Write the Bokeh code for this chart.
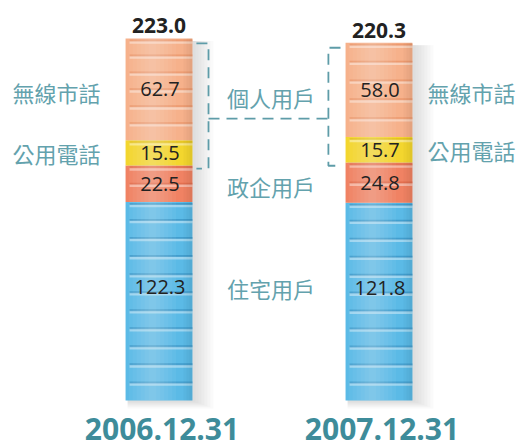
import numpy as np
from bokeh.plotting import figure
from bokeh.models import Range1d
from bokeh.core.properties import value
from bokeh.embed import file_html
from bokeh.resources import INLINE

# ---- data ----
dates = ["2006.12.31", "2007.12.31"]
residential = [122.3, 121.8]   # 住宅用戶
government = [22.5, 24.8]      # 政企用戶
payphone = [15.5, 15.7]        # 公用電話
wireless = [62.7, 58.0]        # 無線市話
totals = [223.0, 220.3]
side_labels = ["無線市話", "公用電話"]
group_labels = ["個人用戶", "政企用戶", "住宅用戶"]

# ---- geometry (styling) ----
xpos = np.array([0.0, 1.0])
hw = 0.152
px = 1 / 220.0  # one pixel in x data units
py = 1 / 1.623  # one pixel in y data units

p = figure(width=524, height=448, x_range=Range1d(-0.7205, 1.6614),
           y_range=Range1d(-29.6, 246.4), output_backend="svg",
           toolbar_location=None, min_border=0,
           x_axis_type=None, y_axis_type=None)
p.grid.visible = False
p.outline_line_color = None
p.background_fill_color = "white"
p.border_fill_color = "white"

res = np.array(residential)
gov = np.array(government)
pay = np.array(payphone)
wl = np.array(wireless)
b0 = np.zeros(2)
t0 = res
t1 = t0 + gov
t2 = t1 + pay
t3 = t2 + wl

# soft shadow to the right of the bars
for k in range(1, 8):
    p.quad(left=xpos - hw + 2 * px, right=xpos + hw + k * 3 * px,
           bottom=b0 - k * 0.7, top=t3 - 1.5,
           fill_color="#8a8a8a", fill_alpha=0.04, line_color=None)

segs = [
    (b0, t0, "#5BBAE6", "#2C86BA"),
    (t0, t1, "#F08263", "#D9603F"),
    (t1, t2, "#F3D62E", "#D8B40E"),
    (t2, t3, "#F6B18B", "#E5875A"),
]
step = 11.0
for bot, top, fc, hc in segs:
    p.quad(left=xpos - hw, right=xpos + hw, bottom=bot, top=top,
           fill_color=fc, line_color=None)
    # ribs
    rx0, rx1, ry = [], [], []
    for j in range(2):
        h = top[j] - bot[j]
        n = max(1, int(round(h / step)))
        for i in range(1, n + 1):
            yv = bot[j] + i * h / n
            if i == n:
                yv -= 1.2
            rx0.append(xpos[j] - hw + 4 * px)
            rx1.append(xpos[j] + hw)
            ry.append(yv)
    ry = np.array(ry)
    p.segment(x0=rx0, x1=rx1, y0=ry - 1.8 * py, y1=ry - 1.8 * py,
              line_color="white", line_alpha=0.4, line_width=3)
    p.segment(x0=rx0, x1=rx1, y0=ry, y1=ry,
              line_color=hc, line_alpha=0.55, line_width=2)

# highlight gradient (lighter left-center) and darker right edge
for k in range(1, 7):
    p.quad(left=xpos - 0.03 - k * 0.018, right=xpos - 0.03 + k * 0.018,
           bottom=b0, top=t3, fill_color="white", fill_alpha=0.045,
           line_color=None)
for k in range(1, 4):
    p.quad(left=xpos + hw - k * 3 * px, right=xpos + hw, bottom=b0, top=t3,
           fill_color="black", fill_alpha=0.025, line_color=None)

num_font = value("Open Sans")
txt_color = "#222222"

# values inside segments
vx = np.concatenate([xpos, xpos, xpos, xpos])
vy = np.concatenate([t0 * 0.57, (t0 + t1) / 2, (t1 + t2) / 2, (t2 + t3) / 2])
vt = ["%.1f" % v for v in np.concatenate([res, gov, pay, wl])]
p.text(x=vx + 1 * px, y=vy, text=vt, text_align="center", text_baseline="middle",
       text_font=num_font, text_font_size="20px", text_color=txt_color)

# totals on top
p.text(x=xpos, y=t3, text=["%.1f" % v for v in totals], y_offset=-5,
       text_align="center", text_baseline="bottom", text_font=num_font,
       text_font_size="21px", text_font_style="bold", text_color=txt_color)

# dates below
p.text(x=xpos + 3 * px, y=b0, text=dates, y_offset=40, text_align="center",
       text_baseline="bottom", text_font=num_font, text_font_size="30px",
       text_font_style="bold", text_color="#3E8C9A")

cjk = value("Noto Sans CJK TC")
lab_color = "#63A2AD"
# side labels
p.text(x=[xpos[0] - hw - 25 * px] * 2, y=[(t2[0] + t3[0]) / 2 - 1.5, (t1[0] + t2[0]) / 2],
       text=side_labels, text_align="right", text_baseline="middle",
       text_font=cjk, text_font_size="22px", text_color=lab_color)
p.text(x=[xpos[1] + hw + 15 * px] * 2, y=[(t2[1] + t3[1]) / 2 - 1.5, (t1[1] + t2[1]) / 2],
       text=side_labels, text_align="left", text_baseline="middle",
       text_font=cjk, text_font_size="22px", text_color=lab_color)

# group labels in the middle
mid = (xpos[0] + xpos[1]) / 2
gy = [((t1 + t3) / 2).mean() + 3.5, ((t0 + t1) / 2).mean() - 1.5, (t0 * 0.57).mean()]
p.text(x=[mid + 2 * px] * 3, y=gy, text=group_labels, text_align="center",
       text_baseline="middle", text_font=cjk, text_font_size="22px",
       text_color=lab_color)

# dashed brackets for 個人用戶
lo = t1 - 2.0
hi = t3 - 3.0
xl_v = xpos[0] + 0.225
xl_t = xpos[0] + 0.17
xr_v = xpos[1] - 0.23
xr_t = xpos[1] - 0.175
conn = lo + 0.4 * (hi - lo)
dash_color = "#5E9CA8"
p.multi_line(xs=[[xl_t, xl_v, xl_v, xl_t], [xr_t, xr_v, xr_v, xr_t], [xl_v, xr_v]],
             ys=[[hi[0], hi[0], lo[0], lo[0]], [hi[1], hi[1], lo[1], lo[1]],
                 [conn.mean(), conn.mean()]],
             line_color=dash_color, line_width=1.8, line_dash="11 7")

open("out.html", "w").write(file_html(p, INLINE))
